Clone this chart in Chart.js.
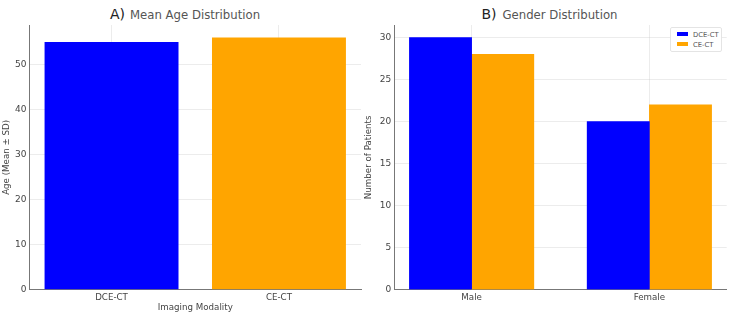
<!DOCTYPE html>
<html>
<head>
<meta charset="utf-8">
<script src="https://cdn.jsdelivr.net/npm/chart.js@4.4.1/dist/chart.umd.min.js"></script>
<style>
  body { margin: 0; background: #fff; font-family: "DejaVu Sans", sans-serif; }
  #page { position: relative; width: 750px; height: 324px; overflow: hidden; }
  .box { position: absolute; top: 0; height: 324px; }
  .ttl { position: absolute; line-height: 1; white-space: nowrap; }
  .big { color: #222; font-size: 14px; }
  .sub { color: #555; font-size: 11.7px; }
  #legend { position: absolute; left: 670px; top: 27px; width: 50px; height: 23px;
            border: 1px solid #e4e4e4; border-radius: 2px; background: #fff;
            font-size: 6.8px; color: #555; z-index: 5; }
  #legend div { position: absolute; left: 6px; height: 8px; line-height: 8px; white-space: nowrap; }
  #legend span { display: inline-block; width: 11px; height: 4px; margin-right: 5px; vertical-align: 1px; }
</style>
</head>
<body>
<div id="page">
  <div class="ttl big" style="left:110px;top:6.5px">A)</div>
  <div class="ttl sub" style="left:130px;top:10px">Mean Age Distribution</div>
  <div class="ttl big" style="left:481.5px;top:6.5px">B)</div>
  <div class="ttl sub" style="left:502.5px;top:10px">Gender Distribution</div>
  <div class="box" style="left:0;width:370px"><canvas id="ageChart"></canvas></div>
  <div class="box" style="left:360px;width:390px"><canvas id="genderChart"></canvas></div>
  <div id="legend"></div>
</div>
<script>
// values
var modalities = ['DCE-CT', 'CE-CT'];
var meanAge = [55, 56];
var genders = ['Male', 'Female'];
var dceCounts = [30, 20];
var ceCounts = [28, 22];
var seriesNames = ['DCE-CT', 'CE-CT'];

var blue = '#0000ff';
var orange = '#ffa500';
var gridColor = 'rgba(200,200,200,0.35)';
var axisColor = '#777';
var textColor = '#444';

Chart.defaults.font.family = '"DejaVu Sans", sans-serif';
Chart.defaults.font.size = 8.7;
Chart.defaults.color = textColor;

var fixWidth = function(w) {
  return function(scale) { scale.width = w; };
};
var fixHeight = function(h) {
  return function(scale) { scale.height = h; };
};
var categoryTicks = function(list) {
  return function(scale) {
    scale.ticks = list.map(function(_, i) { return { value: i }; });
  };
};

var yAxis = function(max, step, title, width, titlePad) {
  return {
    min: 0, max: max, z: 1,
    afterFit: fixWidth(width),
    grid: { color: gridColor, drawTicks: false },
    border: { color: axisColor, width: 1 },
    ticks: { stepSize: step, includeBounds: false, padding: 3, font: { size: 9 } },
    title: { display: true, text: title, padding: { top: titlePad, bottom: 0 } }
  };
};

var xAxis = function(min, max, labels, title) {
  return {
    type: 'linear', min: min, max: max, z: 1, offset: false,
    afterFit: fixHeight(34.3),
    afterBuildTicks: categoryTicks(labels),
    grid: { color: gridColor, drawTicks: false, offset: false },
    border: { color: axisColor, width: 1 },
    ticks: { padding: 3, callback: function(v) { return labels[v]; } },
    title: { display: !!title, text: title, padding: { top: 0, bottom: 10.6 } }
  };
};

// A) mean age
new Chart(document.getElementById('ageChart'), {
  type: 'bar',
  data: {
    datasets: [{
      label: 'Mean Age',
      data: meanAge.map(function(v, i) { return { x: i, y: v }; }),
      backgroundColor: [blue, orange],
      borderWidth: 0,
      barPercentage: 0.8,
      categoryPercentage: 1
    }]
  },
  options: {
    responsive: true, maintainAspectRatio: false, animation: false,
    layout: { padding: { top: 25, right: 9, left: 0, bottom: 0 } },
    plugins: { legend: { display: false }, tooltip: { enabled: false } },
    scales: {
      x: xAxis(-0.49, 1.49, modalities, 'Imaging Modality'),
      y: yAxis(58.8, 10, 'Age (Mean \u00b1 SD)', 29.5, 2)
    }
  }
});

// B) gender, two bars per group, each 0.35 wide
var half = 0.175;
new Chart(document.getElementById('genderChart'), {
  type: 'bar',
  data: {
    datasets: [{
      label: seriesNames[0],
      data: dceCounts.map(function(v, i) { return { x: i - half, y: v }; }),
      backgroundColor: blue
    }, {
      label: seriesNames[1],
      data: ceCounts.map(function(v, i) { return { x: i + half, y: v }; }),
      backgroundColor: orange
    }]
  },
  options: {
    responsive: true, maintainAspectRatio: false, animation: false,
    layout: { padding: { top: 25, right: 23.3, left: 0, bottom: 0 } },
    datasets: { bar: { grouped: false, barPercentage: 1, categoryPercentage: 1, borderWidth: 0 } },
    plugins: { legend: { display: false }, tooltip: { enabled: false } },
    scales: {
      x: xAxis(-0.435, 1.435, genders, ''),
      y: yAxis(31.5, 5, 'Number of Patients', 34.3, 3.5)
    }
  }
});

// legend
var legend = document.getElementById('legend');
[blue, orange].forEach(function(c, i) {
  var row = document.createElement('div');
  row.style.top = (3 + i * 10) + 'px';
  row.innerHTML = '<span style="background:' + c + '"></span>' + seriesNames[i];
  legend.appendChild(row);
});
</script>
</body>
</html>
